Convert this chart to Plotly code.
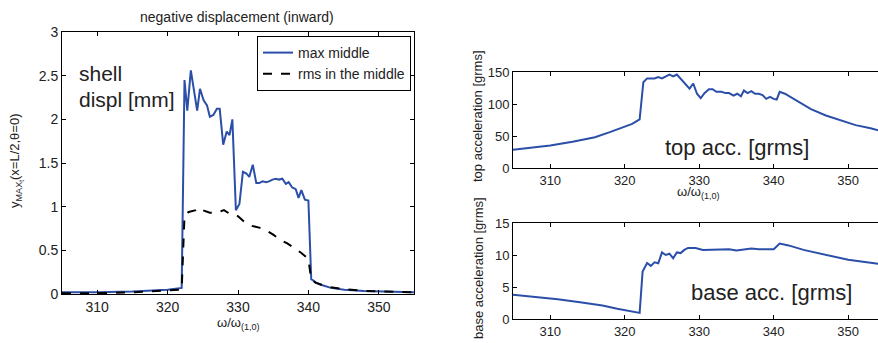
import plotly.graph_objects as go

W, H = 878, 343

# ---- Data: left panel (shell displacement) ----
disp_x = [305, 310, 315, 320, 322, 322.4, 322.8, 323.3, 324.2, 324.6, 325.1, 325.6, 326.0, 326.5,
          327.0, 327.4, 327.9, 328.4, 328.8, 329.2, 329.7, 330.2, 330.7, 331.2, 331.6, 332.1,
          332.6, 333.0, 333.5, 334.0, 334.4, 334.9, 335.4, 335.8, 336.3, 336.8, 337.2, 337.7,
          338.2, 338.6, 339.0, 339.5, 340.0, 340.4, 341.1, 342.0, 343.2, 345.1, 347.9, 351.7, 355]
disp_max = [0.02, 0.02, 0.03, 0.05, 0.07, 2.45, 2.10, 2.56, 2.10, 2.35, 2.22, 2.16, 2.03, 2.05,
            2.12, 2.12, 1.71, 1.86, 1.82, 2.00, 0.96, 1.03, 1.40, 1.38, 1.34, 1.48,
            1.27, 1.27, 1.29, 1.28, 1.29, 1.31, 1.32, 1.31, 1.32, 1.26, 1.28, 1.22,
            1.20, 1.10, 1.19, 1.08, 1.07, 0.17, 0.13, 0.10, 0.07, 0.05, 0.035, 0.03, 0.02]

rms_x = [305, 310, 315, 320, 322, 322.4, 323, 324, 324.5, 325, 326, 327, 328, 329, 330, 331, 332,
         333, 334, 335, 336, 337, 338, 339, 340, 340.4, 341, 342, 343, 345, 348, 352, 355]
rms_mid = [0.01, 0.01, 0.02, 0.04, 0.05, 0.90, 0.94, 0.96, 0.99, 0.96, 0.93, 0.93, 0.96, 0.91,
           0.89, 0.82, 0.78, 0.76, 0.73, 0.68, 0.62, 0.58, 0.53, 0.47, 0.40, 0.17, 0.13, 0.10,
           0.08, 0.055, 0.035, 0.025, 0.02]

# ---- Data: top acceleration ----
top_x = [305, 307, 310, 313, 316, 318, 320, 321, 322, 322.5, 323, 324, 324.5, 325, 326, 326.5,
         327, 327.5, 328, 328.7, 329.2, 329.7, 330.2, 330.7, 331.3, 331.8, 332.3, 333, 333.5,
         334, 334.6, 335.1, 335.6, 336, 336.5, 337, 337.5, 338, 338.5, 339, 339.5, 340, 340.4,
         340.8, 341.5, 343, 345, 347, 349, 351, 353, 354, 355]
top_acc = [28.6, 31, 35, 41, 48, 56, 65, 69, 76, 134, 140, 140, 142, 140, 146, 143,
           146, 139, 133, 124, 132, 116, 109, 117, 123, 123, 119, 119, 117,
           117, 113, 116, 112, 121, 117, 120, 116, 116, 114, 108, 111, 108, 107,
           119, 116, 106, 92, 82, 74, 67, 62, 59, 56]

# ---- Data: base acceleration ----
base_x = [305, 308, 311, 314, 317, 319, 321, 322, 322.4, 323, 323.5, 324, 324.5, 325, 325.5,
          326, 326.5, 327, 327.5, 328, 328.5, 329.5, 330.5, 331.5, 333, 334, 335, 336, 337,
          338, 339, 340, 340.8, 342, 344, 346, 348, 350, 352, 354, 355]
base_acc = [3.8, 3.5, 3.1, 2.6, 2.1, 1.6, 1.15, 0.95, 7.4, 8.75, 8.3, 8.85, 8.7, 10.4, 10.0,
            10.2, 9.5, 10.4, 10.3, 10.8, 11.1, 11.1, 10.8, 10.8, 10.8, 10.9, 10.7, 10.9, 11.0,
            10.9, 10.9, 10.9, 11.8, 11.5, 10.8, 10.3, 9.8, 9.25, 8.95, 8.6, 8.5]

x_ticks = [310, 320, 330, 340, 350]
disp_ticks = [0, 0.5, 1, 1.5, 2, 2.5, 3]
disp_tick_text = ["0", "0.5", "1", "1.5", "2", "2.5", "3"]
top_ticks = [0, 50, 100, 150]
base_ticks = [0, 5, 10, 15]

BLUE = "#2b4fa8"
FONT = "Liberation Sans, Arial, sans-serif"


def px(x):
    return x / W


def py(y):
    return (H - y) / H


fig = go.Figure()
fig.add_trace(go.Scatter(x=disp_x, y=disp_max, mode="lines", name="max middle",
                         line=dict(color=BLUE, width=2), xaxis="x", yaxis="y"))
fig.add_trace(go.Scatter(x=rms_x, y=rms_mid, mode="lines", name="rms in the middle",
                         line=dict(color="black", width=2, dash="dash"), xaxis="x", yaxis="y"))
fig.add_trace(go.Scatter(x=top_x, y=top_acc, mode="lines", showlegend=False,
                         line=dict(color=BLUE, width=2), xaxis="x2", yaxis="y2"))
fig.add_trace(go.Scatter(x=base_x, y=base_acc, mode="lines", showlegend=False,
                         line=dict(color=BLUE, width=2), xaxis="x3", yaxis="y3"))

ax_common = dict(showgrid=False, zeroline=False, showline=True, linecolor="black", linewidth=1,
                 ticks="inside", ticklen=4, tickcolor="black", automargin=False)

fig.update_layout(
    width=W, height=H, margin=dict(l=0, r=0, t=0, b=0, autoexpand=False),
    paper_bgcolor="white", plot_bgcolor="white",
    font=dict(family=FONT, color="#222"),
    xaxis=dict(domain=[px(62), px(414)], range=[305, 355], tickvals=x_ticks, mirror="ticks",
               anchor="y", tickfont=dict(size=14), **ax_common),
    yaxis=dict(domain=[py(294), py(32)], range=[0, 3], tickvals=disp_ticks, ticktext=disp_tick_text,
               mirror="ticks", anchor="x", tickfont=dict(size=14), **ax_common),
    xaxis2=dict(domain=[px(513), 1.0], range=[305, 354.0], tickvals=x_ticks, mirror="ticks",
                anchor="y2", tickfont=dict(size=13), **ax_common),
    yaxis2=dict(domain=[py(168), py(72)], range=[0, 150], tickvals=top_ticks, anchor="x2",
                tickfont=dict(size=13), **ax_common),
    xaxis3=dict(domain=[px(513), 1.0], range=[305, 354.0], tickvals=x_ticks, mirror="ticks",
                anchor="y3", tickfont=dict(size=13), **ax_common),
    yaxis3=dict(domain=[py(319), py(223)], range=[0, 15], tickvals=base_ticks, anchor="x3",
                tickfont=dict(size=13), **ax_common),
    legend=dict(x=px(411), y=py(36), xanchor="right", yanchor="top", bgcolor="white",
                bordercolor="black", borderwidth=1, font=dict(size=14, color="#222"),
                tracegroupgap=0, itemwidth=30),
    showlegend=True,
)

ann = [
    dict(text="negative displacement (inward)", x=px(237), y=py(17), font=dict(size=14)),
    dict(text="shell", x=px(77), y=py(74), xanchor="left", font=dict(size=21)),
    dict(text="displ [mm]", x=px(77), y=py(100), xanchor="left", font=dict(size=21)),
    dict(text="y<sub>MAX<sub>t</sub></sub>(x=L/2,θ=0)", x=px(16), y=py(161), textangle=-90,
         font=dict(size=13)),
    dict(text="ω/ω<sub>(1,0)</sub>", x=px(238), y=py(323), font=dict(size=13)),
    dict(text="top acc. [grms]", x=px(737), y=py(147), font=dict(size=22)),
    dict(text="top acceleration [grms]", x=px(478), y=py(116), textangle=-90, font=dict(size=13)),
    dict(text="ω/ω<sub>(1,0)</sub>", x=px(698), y=py(192), font=dict(size=13)),
    dict(text="base acc. [grms]", x=px(771), y=py(292), font=dict(size=22)),
    dict(text="base acceleration [grms]", x=px(478), y=py(268), textangle=-90, font=dict(size=13)),
]
for a in ann:
    a.setdefault("xanchor", "center")
    fig.add_annotation(xref="paper", yref="paper", showarrow=False, yanchor="middle", **a)

fig.write_html("out.html", config={"displayModeBar": False},
               post_script="document.body.style.margin='0';document.body.style.overflow='hidden';")
